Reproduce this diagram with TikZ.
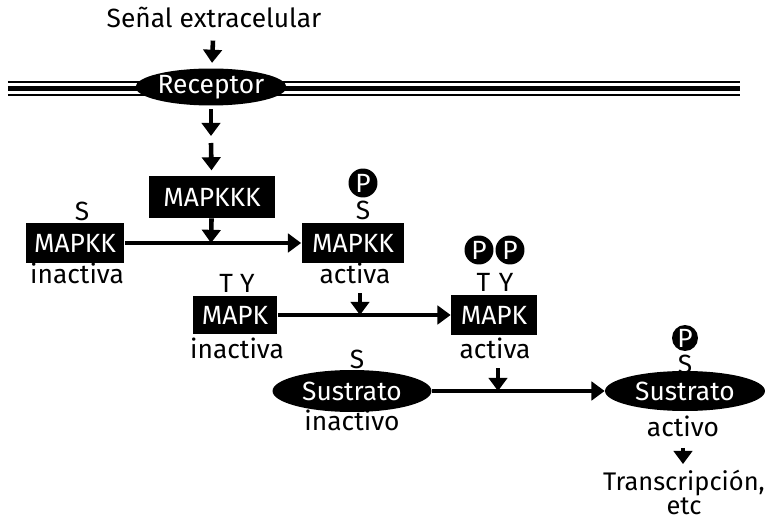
\documentclass[tikz,border=0pt]{standalone}
\usepackage{fontspec}
\setmainfont{Fira Sans}
\usetikzlibrary{arrows.meta,shapes.geometric}
\begin{document}
\begin{tikzpicture}[x=0.02cm,y=-0.02cm,
  every node/.style={font=\fontsize{15}{16}\selectfont},
  kbox/.style={fill=black,text=white,inner sep=0pt},
  blob/.style={ellipse,fill=black,text=white,inner sep=0pt},
  phos/.style={circle,fill=black,text=white,inner sep=0pt,minimum size=0.58cm},
  arr/.style={line width=2.6pt,-{Triangle[length=7.5pt,width=10.5pt]}}
]
\useasboundingbox (0,0) rectangle (769,517);

% cell membrane
\draw[line width=1.3pt] (8,82) -- (740,82);
\draw[line width=3pt] (8,88.5) -- (740,88.5);
\draw[line width=1.5pt] (8,95) -- (740,95);

% signal and receptor
\node (sig) at (214,17) {Señal extracelular};
\node[blob,minimum width=2.74cm,minimum height=0.74cm] (rec) at (211,87) {Receptor};
\draw[arr,shorten <=4pt,shorten >=3pt] (sig) -- (rec);
\coordinate (m1) at (211,136);
\coordinate (m2) at (211,143);
\draw[arr,shorten <=2pt] (rec) -- (m1);

% MAPKKK
\node[kbox,minimum width=2.52cm,minimum height=0.84cm] (kkk) at (212,197) {MAPKKK};
\draw[arr,shorten >=3pt] (m2) -- (kkk);

% MAPKK
\node[kbox,minimum width=1.98cm,minimum height=0.82cm] (mkk0) at (75,243) {MAPKK};
\node[kbox,minimum width=2.06cm,minimum height=0.8cm] (mkk1) at (353,243) {MAPKK};
\node (s1) at (82,211) {S};
\node (s2) at (363,210) {S};
\node[phos] (p1) at (363,183) {P};
\node (i1) at (77,273) {inactiva};
\node (a1) at (355,273) {activa};
\draw[arr] (mkk0) -- (mkk1);
\coordinate (j1) at (211,243);
\draw[arr] (kkk) -- (j1);

% MAPK
\node[kbox,minimum width=1.7cm,minimum height=0.78cm] (mk0) at (235,315) {MAPK};
\node[kbox,minimum width=1.72cm,minimum height=0.82cm] (mk1) at (494,315) {MAPK};
\node (ty0) at (237,283) {T\hspace{4pt}Y};
\node (ty1) at (495,282) {T\hspace{5pt}Y};
\node[phos] (p2) at (479,250) {P};
\node[phos] (p3) at (510,250) {P};
\node (i2) at (237,348) {inactiva};
\node (a2) at (495,348) {activa};
\draw[arr] (mk0) -- (mk1);
\coordinate (j2) at (360,315);
\draw[arr,shorten <=2pt] (j2 |- a1.south) -- (j2);

% substrate
\node[blob,minimum width=3.18cm,minimum height=0.84cm] (sus0) at (352,391) {Sustrato};
\node[blob,minimum width=3.2cm,minimum height=0.8cm] (sus1) at (685,391) {Sustrato};
\node (s3) at (357,359) {S};
\node (s4) at (685,364) {S};
\node[phos,minimum size=0.52cm] (p4) at (685,338) {P};
\node (i3) at (352,420) {inactivo};
\node (a3) at (683,426) {activo};
\draw[arr] (sus0) -- (sus1);
\coordinate (j3) at (498,391);
\draw[arr,shorten <=2pt] (j3 |- a2.south) -- (j3);

% output
\node[align=center,inner sep=0pt,font=\fontsize{14.5}{12.5}\selectfont] (tr) at (684,492) {Transcripción,\\etc};
\draw[arr,shorten <=3pt,shorten >=3pt] (a3) -- (a3 |- tr.north);
\end{tikzpicture}
\end{document}
